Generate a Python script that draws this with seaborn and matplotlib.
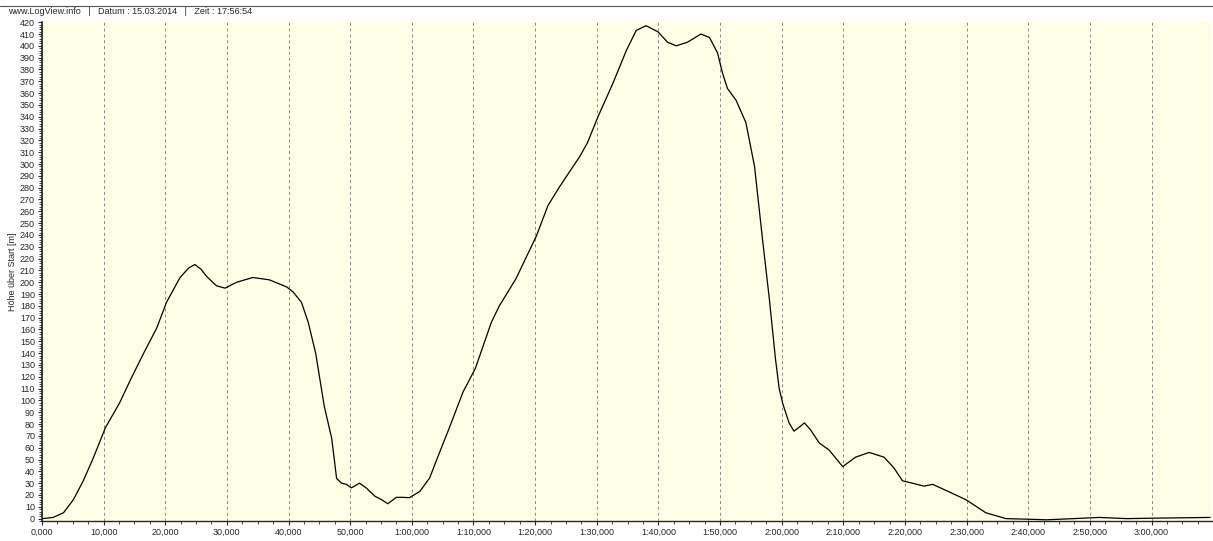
import numpy as np
import pandas as pd
import matplotlib
matplotlib.use("Agg")
import matplotlib.pyplot as plt
from matplotlib.ticker import FuncFormatter, MultipleLocator
import seaborn as sns

zeit = [0.0, 0.1, 1.8, 3.5, 5.1, 6.7, 8.3, 10.3, 12.6, 14.5, 16.5, 18.6, 20.2,
        22.4, 23.8, 24.8, 25.8, 26.7, 28.3, 29.7, 31.6, 34.2, 36.9, 39.7, 40.7,
        42.1, 43.2, 44.4, 45.8, 47.0, 47.8, 48.6, 49.4, 50.2, 51.5, 52.6, 54.0,
        55.1, 56.1, 57.5, 58.6, 59.6, 61.3, 62.9, 64.2, 66.1, 68.3, 70.3, 72.9,
        74.2, 76.9, 80.2, 82.1, 84.0, 87.2, 88.5, 90.2, 92.6, 94.8, 96.4, 98.0,
        99.9, 101.5, 102.9, 104.7, 106.9, 108.3, 109.6, 110.4, 111.2, 112.6,
        114.2, 115.6, 116.9, 118.0, 119.0, 119.6, 120.2, 121.2, 122.0, 123.0,
        123.7, 124.7, 126.1, 127.7, 129.9, 132.0, 134.2, 136.6, 138.2, 139.6,
        141.2, 143.1, 144.5, 146.6, 149.9, 153.1, 156.4, 160.0, 163.0, 167.4,
        171.5, 176.0, 182.0, 189.5]
hoehe = [0, 0, 1, 5, 16, 32, 51, 77, 98, 119, 140, 161, 183,
         204, 212, 215, 211, 205, 197, 195, 200, 204, 202, 196, 192,
         183, 166, 140, 95, 68, 34, 30, 29, 26, 30, 26, 19,
         16, 12.6, 18, 18, 17.7, 23, 34.5, 52, 77, 107, 127, 166,
         180, 203, 239, 265, 281, 306, 318, 340, 368, 396, 413, 417,
         412, 403, 400, 403, 410, 407, 394, 377, 364, 354,
         335, 298, 236, 186, 135, 110, 97, 81, 74, 78,
         81, 75, 64, 58, 44, 52, 56, 52, 43, 32,
         30, 27.5, 29, 24, 16, 5, 0, -0.5, -1, 0,
         1, 0, 0.5, 1]

df = pd.DataFrame({"Zeit": zeit, "Hoehe": hoehe})

sns.set_style("white")
plt.rcParams["font.family"] = ["Liberation Sans", "DejaVu Sans"]

fig = plt.figure(figsize=(12.13, 5.41), dpi=100)
ax = fig.add_axes([0.0346, 0.037, 0.9645, 0.922])
ax.set_facecolor("#fefee4")

sns.lineplot(data=df, x="Zeit", y="Hoehe", ax=ax, color="black", linewidth=0.9)

ax.set_xlim(0, 189.8)
ax.set_ylim(-2, 420)


def zeit_fmt(v, pos):
    m = int(v // 60)
    s = int(round(v - m * 60))
    if m > 0:
        return f"{m}:{s:02d},000"
    return f"{s},000"


ax.xaxis.set_major_locator(MultipleLocator(10))
ax.xaxis.set_minor_locator(MultipleLocator(2.5))
ax.xaxis.set_major_formatter(FuncFormatter(zeit_fmt))
ax.yaxis.set_major_locator(MultipleLocator(10))
ax.yaxis.set_minor_locator(MultipleLocator(2))

ax.tick_params(axis="both", which="major", labelsize=6.5, length=3, width=0.8,
               direction="out", pad=2, bottom=True, left=True)
ax.tick_params(axis="both", which="minor", length=2, width=0.6, bottom=True, left=True)

ax.grid(True, axis="x", which="major", linestyle=(0, (3, 3)), color="#888888", linewidth=0.7)
ax.grid(False, axis="y")

for side in ["top", "right"]:
    ax.spines[side].set_visible(False)
ax.spines["left"].set_linewidth(1.2)
ax.spines["bottom"].set_linewidth(1.0)

ax.set_xlabel("")
ax.set_ylabel("Höhe über Start [m]", fontsize=6.5, labelpad=2)

# Kopfzeile
fig.add_artist(plt.Line2D([0, 1], [0.989, 0.989], color="#555555", linewidth=0.8))
fig.text(0.007, 0.978, "www.LogView.info   |   Datum : 15.03.2014   |   Zeit : 17:56:54",
         fontsize=6.5, va="center", ha="left")

fig.savefig("out.png", dpi=100)
